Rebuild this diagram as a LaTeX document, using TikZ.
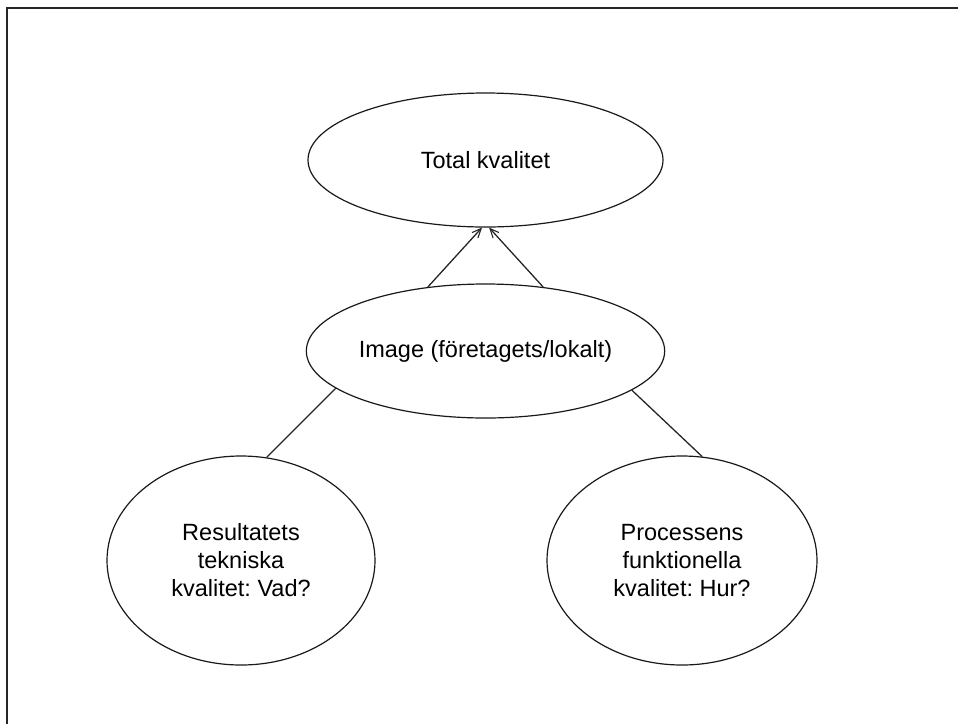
\documentclass[tikz,border=0pt]{standalone}
\usepackage{fontspec}
\setmainfont{Liberation Sans}
\usetikzlibrary{shapes.geometric,arrows.meta}
\frenchspacing
\begin{document}
\begin{tikzpicture}[x=1pt,y=-1pt,
  oval/.style={ellipse,draw=black!90,line width=1.2pt,inner sep=0pt,
    align=center,font=\fontsize{23.5}{28}\selectfont},
  link/.style={draw=black!85,line width=1.3pt},
  up/.style={link,-{Straight Barb[length=9pt,width=8pt,line width=1.1pt]}}]
\useasboundingbox (0,0) rectangle (958,724);
% frame running off the right and bottom edges
\draw[line width=2.2pt,black!85] (7,724) -- (7,8) -- (958,8);
% quality ovals
\node[oval,minimum width=355pt,minimum height=134pt] (total) at (485.5,160) {Total kvalitet};
\node[oval,minimum width=354pt,minimum height=134pt] (image) at (485.5,351) {Image (företagets/lokalt)};
\node[oval,minimum width=268pt,minimum height=209pt] (tech) at (241,560.5)
  {Resultatets\\tekniska\\kvalitet: Vad?};
\node[oval,minimum width=270pt,minimum height=209pt] (func) at (682,560.5)
  {Processens\\funktionella\\kvalitet: Hur?};
% connectors
\draw[up] (image.132) -- (total.-93);
\draw[up] (image.48.5) -- (total.-87);
\draw[link] (image.194) -- (tech.76);
\draw[link] (image.-15) -- (func.79);
\end{tikzpicture}
\end{document}
